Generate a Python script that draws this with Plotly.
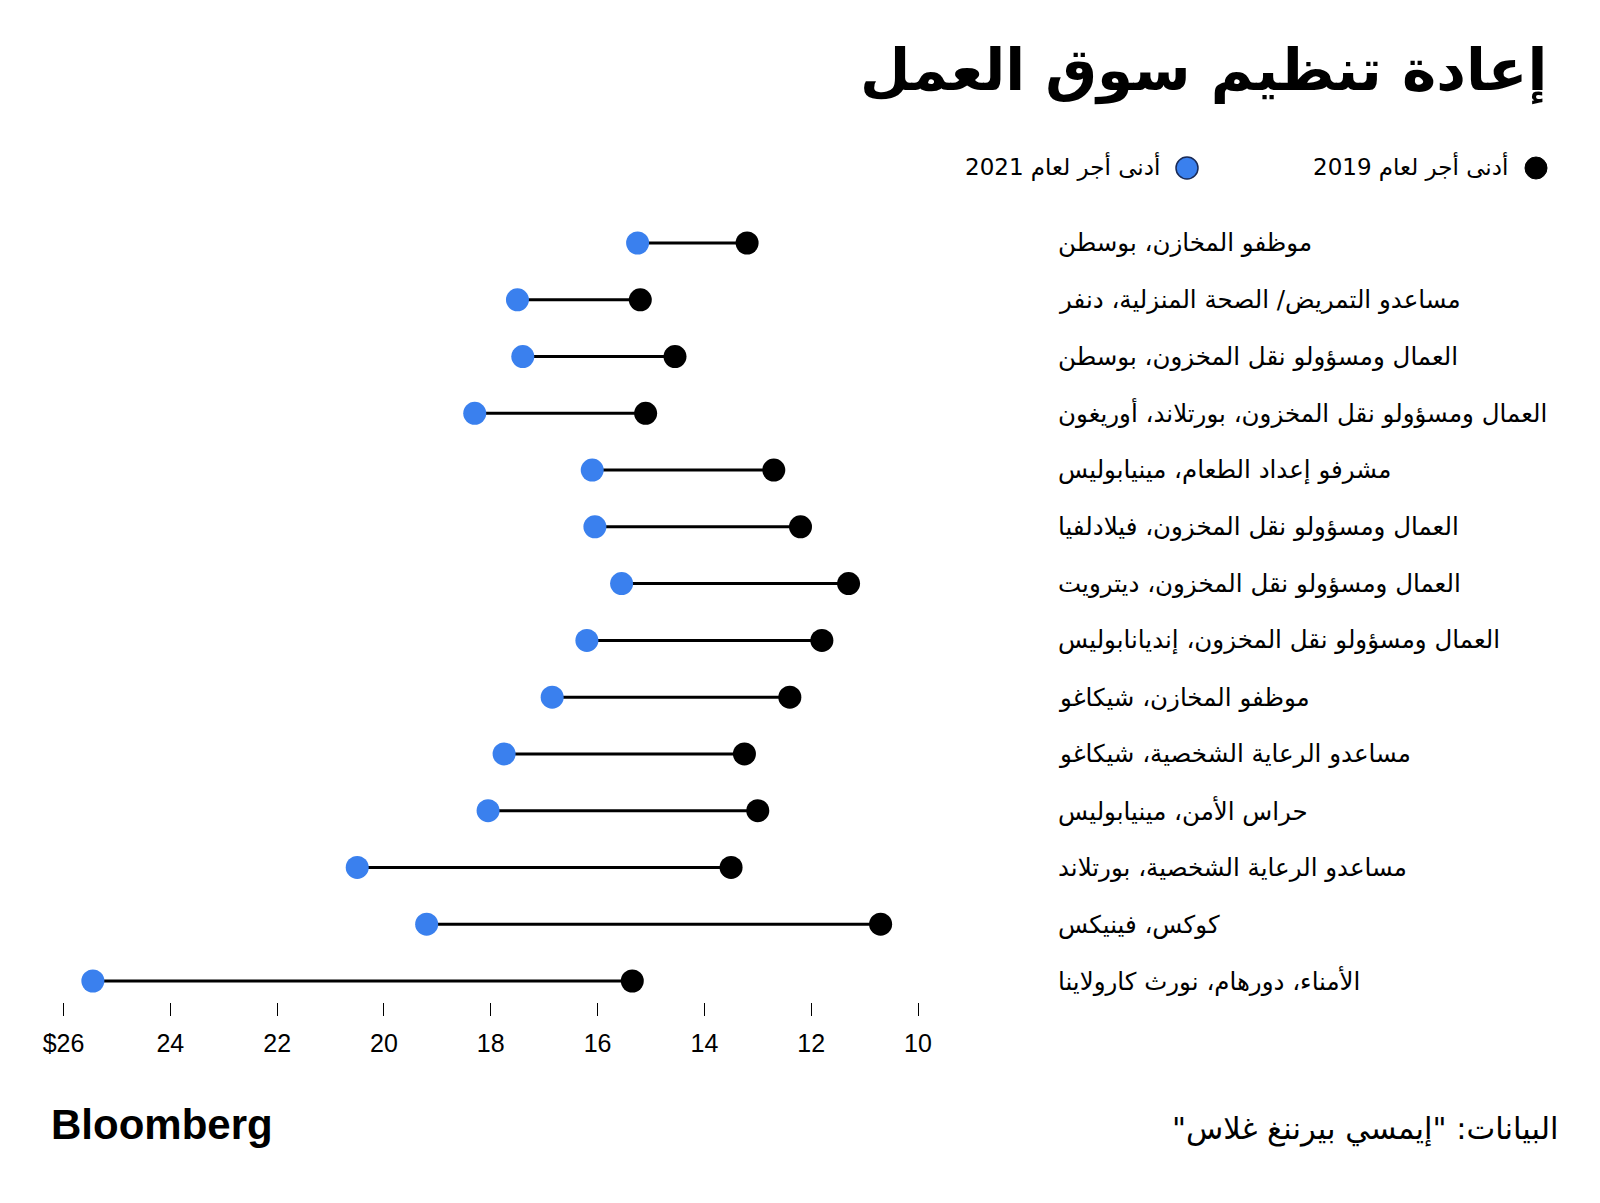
import plotly.graph_objects as go

labels = [
    "موظفو المخازن، بوسطن",
    "مساعدو التمريض/ الصحة المنزلية، دنفر",
    "العمال ومسؤولو نقل المخزون، بوسطن",
    "العمال ومسؤولو نقل المخزون، بورتلاند، أوريغون",
    "مشرفو إعداد الطعام، مينيابوليس",
    "العمال ومسؤولو نقل المخزون، فيلادلفيا",
    "العمال ومسؤولو نقل المخزون، ديترويت",
    "العمال ومسؤولو نقل المخزون، إنديانابوليس",
    "موظفو المخازن، شيكاغو",
    "مساعدو الرعاية الشخصية، شيكاغو",
    "حراس الأمن، مينيابوليس",
    "مساعدو الرعاية الشخصية، بورتلاند",
    "كوكس، فينيكس",
    "الأمناء، دورهام، نورث كارولاينا",
]
wage_2019 = [13.2, 15.2, 14.55, 15.1, 12.7, 12.2, 11.3, 11.8, 12.4, 13.25, 13.0, 13.5, 10.7, 15.35]
wage_2021 = [15.25, 17.5, 17.4, 18.3, 16.1, 16.05, 15.55, 16.2, 16.85, 17.75, 18.05, 20.5, 19.2, 25.45]

tick_vals = [26, 24, 22, 20, 18, 16, 14, 12, 10]
tick_text = ["$26", "24", "22", "20", "18", "16", "14", "12", "10"]

title_text = "إعادة تنظيم سوق العمل"
legend_2019 = "أدنى أجر لعام 2019"
legend_2021 = "أدنى أجر لعام 2021"
source_text = "البيانات: \"إيمسي بيرننغ غلاس\""

RLM = "\u200f"
BLUE = "#3a80ee"
W, H = 1600, 1203
rows = list(range(len(labels)))

line_x, line_y = [], []
for i in rows:
    line_x += [wage_2021[i], wage_2019[i], None]
    line_y += [i, i, None]

fig = go.Figure()
fig.add_trace(go.Scatter(x=line_x, y=line_y, mode="lines",
                         line=dict(color="black", width=3), hoverinfo="skip", showlegend=False))
fig.add_trace(go.Scatter(x=wage_2019, y=rows, mode="markers",
                         marker=dict(color="black", size=23, line=dict(width=0)),
                         hoverinfo="skip", showlegend=False, cliponaxis=False))
fig.add_trace(go.Scatter(x=wage_2021, y=rows, mode="markers",
                         marker=dict(color=BLUE, size=23, line=dict(width=0)),
                         hoverinfo="skip", showlegend=False, cliponaxis=False))

def px(x):
    return x / W

def py(y):
    return (H - y) / H

annotations = []
for i, lab in enumerate(labels):
    annotations.append(dict(x=px(1056), y=i, xref="paper", yref="y", text=lab,
                            xanchor="left", yanchor="middle", align="left", showarrow=False,
                            font=dict(family="DejaVu Sans", size=24.5, color="black")))

annotations.append(dict(x=px(1549), y=py(70), xref="paper", yref="paper", text="<b>" + title_text + "</b>",
                        xanchor="right", yanchor="middle", showarrow=False,
                        font=dict(family="DejaVu Sans", size=58, color="black")))
annotations.append(dict(x=px(1510), y=py(166), xref="paper", yref="paper", text=legend_2019,
                        xanchor="right", yanchor="middle", showarrow=False,
                        font=dict(family="DejaVu Sans", size=23, color="black")))
annotations.append(dict(x=px(1162), y=py(166), xref="paper", yref="paper", text=legend_2021,
                        xanchor="right", yanchor="middle", showarrow=False,
                        font=dict(family="DejaVu Sans", size=23, color="black")))
annotations.append(dict(x=px(49), y=py(1124), xref="paper", yref="paper", text="<b>Bloomberg</b>",
                        xanchor="left", yanchor="middle", showarrow=False,
                        font=dict(family="Liberation Sans", size=42, color="black")))
annotations.append(dict(x=px(1560), y=py(1129), xref="paper", yref="paper", text=source_text + RLM,
                        xanchor="right", yanchor="middle", showarrow=False,
                        font=dict(family="DejaVu Sans", size=30.5, color="black")))

r = 11
shapes = [
    dict(type="circle", xref="paper", yref="paper",
         x0=px(1536 - r), x1=px(1536 + r), y0=py(168 + r), y1=py(168 - r),
         fillcolor="black", line=dict(color="black", width=1)),
    dict(type="circle", xref="paper", yref="paper",
         x0=px(1187 - r), x1=px(1187 + r), y0=py(168 + r), y1=py(168 - r),
         fillcolor=BLUE, line=dict(color="#1a2a55", width=1.5)),
]

y_bottom = 1002
y_top = 243 - 0.5 * 56.77
fig.update_layout(
    width=W, height=H, autosize=False,
    margin=dict(l=0, r=0, t=0, b=0, pad=0, autoexpand=False),
    paper_bgcolor="white", plot_bgcolor="white",
    annotations=annotations, shapes=shapes,
    xaxis=dict(domain=[63.5 / W, 918 / W], range=[26, 10], tickvals=tick_vals, ticktext=tick_text,
               ticks="outside", ticklen=13, tickwidth=1.2, tickcolor="black",
               ticklabelstandoff=6, automargin=False,
               showgrid=False, zeroline=False, showline=False,
               tickfont=dict(family="Liberation Sans", size=25, color="black")),
    yaxis=dict(domain=[py(y_bottom), py(y_top)], range=[13.37, -0.5], automargin=False,
               showgrid=False, zeroline=False, showline=False, showticklabels=False, ticks=""),
    showlegend=False,
)

fig.write_html("out.html", config={"responsive": False, "displayModeBar": False},
               post_script="document.body.style.margin='0';document.body.style.overflow='hidden';")
